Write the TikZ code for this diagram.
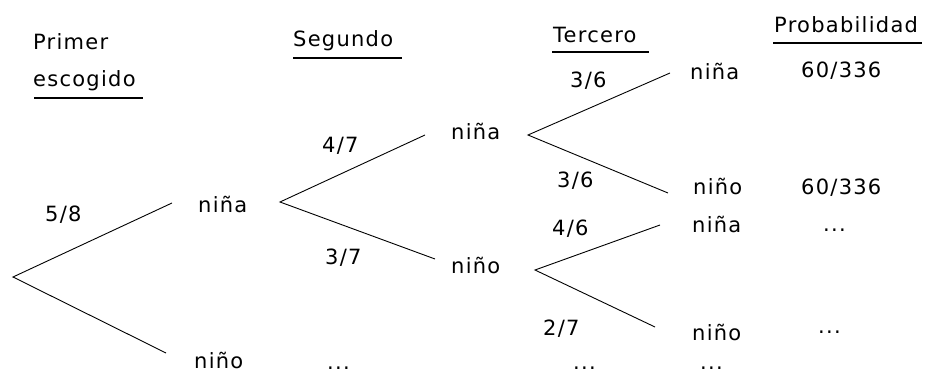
\documentclass[tikz,border=0pt]{standalone}
\usepackage{fontspec}
\setmainfont[LetterSpace=6]{DejaVu Sans}
\begin{document}
\begin{tikzpicture}[x=1pt,y=-1pt,
  txt/.style={anchor=base west,inner sep=0pt,font=\fontsize{21}{25}\selectfont},
  branch/.style={line width=0.9pt},
  uline/.style={line width=1.1pt}]
\useasboundingbox (0,0) rectangle (926,374);
% headers
\node[txt] (h1) at (33,50) {Primer};
\node[txt] (h1b) at (33,87) {escogido};
\node[txt] (h2) at (293,47) {Segundo};
\node[txt] (h3) at (553,43) {Tercero};
\node[txt] (h4) at (774,33) {Probabilidad};
\coordinate (u1a) at (34,98);  \coordinate (u1b) at (143,98);
\coordinate (u2a) at (293,58); \coordinate (u2b) at (402,58);
\coordinate (u3a) at (552,52); \coordinate (u3b) at (649,52);
\coordinate (u4a) at (773,43); \coordinate (u4b) at (922,43);
\draw[uline] (u1a) -- (u1b);
\draw[uline] (u2a) -- (u2b);
\draw[uline] (u3a) -- (u3b);
\draw[uline] (u4a) -- (u4b);
% tree labels
\node[txt] (na1) at (198,212) {niña};
\node[txt] (no1) at (194,368) {niño};
\node[txt] (na2) at (451,140) {niña};
\node[txt] (no2) at (451,273) {niño};
\node[txt] (na3) at (690,80) {niña};
\node[txt] (no3) at (693,195) {niño};
\node[txt] (na4) at (692,233) {niña};
\node[txt] (no4) at (692,340) {niño};
% probabilities on branches
\node[txt] (p58) at (45,222) {5/8};
\node[txt] (p47) at (322,153) {4/7};
\node[txt] (p37) at (325,264) {3/7};
\node[txt] (p36a) at (570,88) {3/6};
\node[txt] (p36b) at (557,188) {3/6};
\node[txt] (p46) at (552,236) {4/6};
\node[txt] (p27) at (543,335) {2/7};
% probability column
\node[txt] (r1) at (801,78) {60/336};
\node[txt] (r2) at (801,195) {60/336};
\node[txt] (r3) at (823,231) {...};
\node[txt] (r4) at (818,333) {...};
% bottom dots
\node[txt] (d1) at (327,369) {...};
\node[txt] (d2) at (573,369) {...};
\node[txt] (d3) at (700,369) {...};
% branch points
\coordinate (root) at (13,277);
\coordinate (e1u) at (172,203);
\coordinate (e1d) at (166,353);
\coordinate (a2) at (280,202);
\coordinate (e2u) at (425,135);
\coordinate (e2d) at (435,259);
\coordinate (a3) at (528,135);
\coordinate (e3u) at (670,73);
\coordinate (e3d) at (668,193);
\coordinate (a4) at (535,270);
\coordinate (e4u) at (660,225);
\coordinate (e4d) at (655,327);
\draw[branch] (e1u) -- (root) -- (e1d);
\draw[branch] (e2u) -- (a2) -- (e2d);
\draw[branch] (e3u) -- (a3) -- (e3d);
\draw[branch] (e4u) -- (a4) -- (e4d);
\end{tikzpicture}
\end{document}
